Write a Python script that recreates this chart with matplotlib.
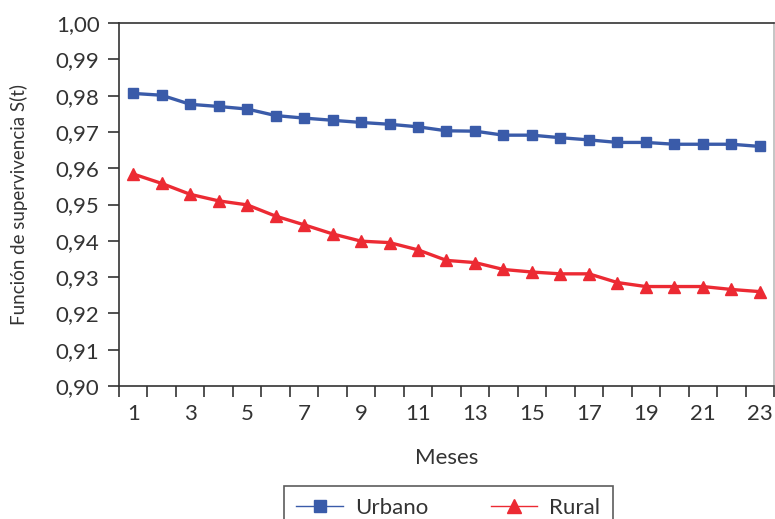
import numpy as np
import matplotlib.pyplot as plt
from matplotlib.lines import Line2D
from matplotlib.ticker import FixedLocator, FuncFormatter

plt.rcParams['font.family'] = ['Lato', 'DejaVu Sans']

meses = np.arange(1, 24)
urbano = [0.9806, 0.9801, 0.9776, 0.9770, 0.9763, 0.9745, 0.9738, 0.9732,
          0.9726, 0.9721, 0.9714, 0.9703, 0.9702, 0.9691, 0.9691, 0.9684,
          0.9678, 0.9671, 0.9671, 0.9666, 0.9666, 0.9666, 0.9660]
rural = [0.9584, 0.9558, 0.9528, 0.9510, 0.9499, 0.9468, 0.9444, 0.9419,
         0.9399, 0.9395, 0.9375, 0.9346, 0.9340, 0.9321, 0.9314, 0.9309,
         0.9309, 0.9285, 0.9274, 0.9274, 0.9274, 0.9266, 0.9260]

azul = '#3a5ba9'
rojo = '#ec2a33'
gris = '#333333'

fig = plt.figure(figsize=(7.75, 5.19), dpi=100)
ax = fig.add_axes([119 / 775, 1 - 386 / 519, 655 / 775, 363 / 519])

ax.plot(meses, urbano, color=azul, lw=2.4, marker='s', ms=6.5, zorder=3)
ax.plot(meses, rural, color=rojo, lw=2.4, marker='^', ms=8, zorder=3)

ax.set_xlim(0.5, 23.5)
ax.set_ylim(0.90, 1.00)
ax.set_yticks(np.arange(0.90, 1.0001, 0.01))
ax.yaxis.set_major_formatter(FuncFormatter(lambda v, p: f"{v:.2f}".replace('.', ',')))

# etiquetas en meses impares, marcas entre categorias
ax.set_xticks(meses[::2])
ax.xaxis.set_minor_locator(FixedLocator(np.arange(0.5, 24, 1)))
ax.tick_params(axis='x', which='major', length=0, pad=13, labelsize=16, colors=gris)
ax.tick_params(axis='x', which='minor', length=8, width=1.2, direction='out', color=gris)
ax.tick_params(axis='y', length=8, width=1.2, direction='out', labelsize=16, pad=6, colors=gris)

for s in ax.spines.values():
    s.set_color(gris)
    s.set_linewidth(1.2)
ax.spines['right'].set_color('#bbbbbb')

ax.set_xlabel('Meses', fontsize=16, color=gris, labelpad=17)
ax.set_ylabel('Función de supervivencia S(t)', fontsize=13.5, color=gris, labelpad=20)

handles = [Line2D([], [], color=azul, lw=1, marker='s', ms=9),
           Line2D([], [], color=rojo, lw=1, marker='^', ms=10)]
leg = fig.legend(handles, ['Urbano', 'Rural'], loc='upper left',
                 bbox_to_anchor=(284 / 775, 1 - 486 / 519), ncol=2,
                 fontsize=16, frameon=True, fancybox=False, handlelength=2.1,
                 handletextpad=0.55, columnspacing=2.8, borderpad=0.55,
                 borderaxespad=0, labelcolor=gris)
leg.get_frame().set_edgecolor(gris)
leg.get_frame().set_linewidth(1.2)

fig.savefig('out.png', dpi=100)
